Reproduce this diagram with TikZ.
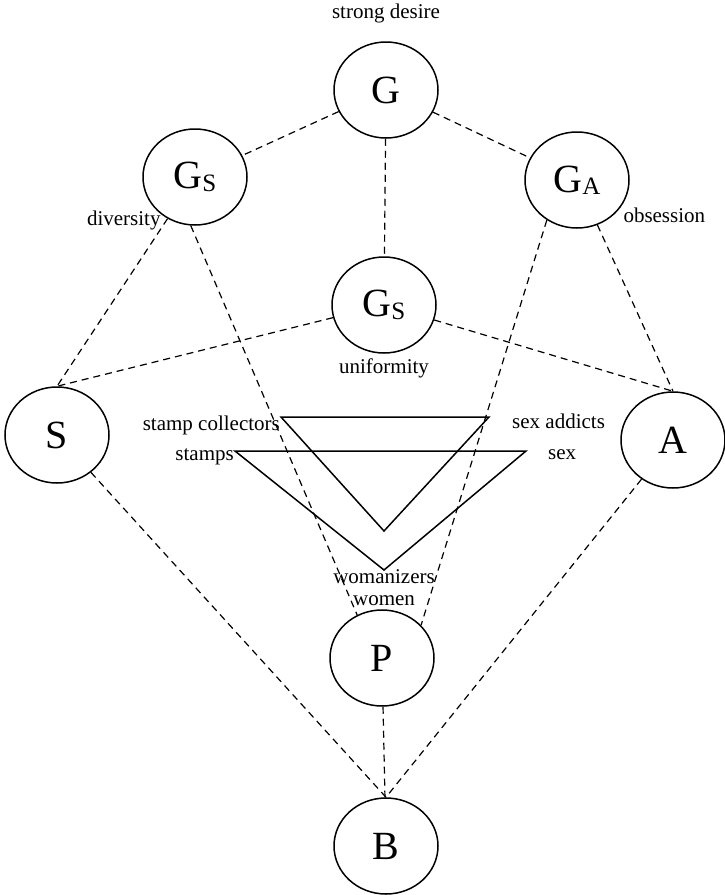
\documentclass[tikz,border=0pt]{standalone}
\usepackage{fontspec}
\setmainfont{Liberation Serif}
\usetikzlibrary{positioning}
\usetikzlibrary{shapes.geometric}

\newcommand\gsub[2]{#1\raisebox{-0.06em}{\fontsize{25}{27}\selectfont #2}}

\begin{document}
\begin{tikzpicture}
[
x=1pt, y=1pt,
state-a/.style={ellipse,draw,line width=1.5pt,minimum width=104pt,minimum height=96pt,inner sep=0pt,font=\fontsize{40}{44}\selectfont},
text-a/.style={black,font=\fontsize{21}{24}\selectfont,inner sep=1pt,text height=15pt,text depth=4pt},
link-a/.style={line width=1.2pt,dash pattern=on 7pt off 5pt},
tri-a/.style={line width=1.5pt,line join=miter},
]
\useasboundingbox (0,0) rectangle (724,-895);
% circles
\node (g)  [state-a] at (386,-90)  {G};
\node (gl) [state-a] at (195,-177) {\gsub{G}{S}};
\node (ga) [state-a] at (577,-180) {\gsub{G}{A}};
\node (gm) [state-a] at (384,-305) {\gsub{G}{S}};
\node (s)  [state-a] at (57,-435)  {S};
\node (a)  [state-a] at (673,-440) {A};
\node (p)  [state-a] at (382,-658) {P};
\node (b)  [state-a] at (386,-846) {B};
% triangles
\coordinate (t1a) at (281,-417);
\coordinate (t1b) at (489,-417);
\coordinate (t1c) at (384,-531);
\coordinate (t2a) at (235,-451);
\coordinate (t2b) at (526,-451);
\coordinate (t2c) at (384,-570);
\draw [tri-a] (t1a) -- (t1b) -- (t1c) -- cycle;
\draw [tri-a] (t2a) -- (t2b) -- (t2c) -- cycle;
% labels
\node (l1) [text-a, above = 18pt of g]                   {strong desire};
\node (l2) [text-a, left  = -4pt of gl.south west, yshift=-9pt] {diversity};
\node (l3) [text-a, right = 8pt of ga.south east, yshift=-3pt]  {obsession};
\node (l4) [text-a, below = 4pt of gm]                   {uniformity};
\node (l5) [text-a, left  = 0pt of t1a, yshift=-8pt]    {stamp collectors};
\node (l6) [text-a, left  = 0pt of t2a, yshift=-4pt]    {stamps};
\node (l7) [text-a, right = 22pt of t1b, yshift=-6pt]   {sex addicts};
\node (l8) [text-a, right = 21pt of t2b, yshift=-3pt]   {sex};
\node (l9) [text-a, below = -2.5pt of t2c]               {womanizers};
\node (l10) [text-a, below = 0pt of l9]                  {women};
% links
\draw [link-a] (g) -- (gl);
\draw [link-a] (g) -- (ga);
\draw [link-a] (g) -- (gm);
\draw [link-a] (gl) -- (s.north);
\draw [link-a] (gm) -- (s.north);
\draw [link-a] (ga) -- (a.north);
\draw [link-a] (gm) -- (a.north);
\draw [link-a] (gl.-95) -- (p.120);
\draw [link-a] (ga.-127) -- (p.40);
\draw [link-a] (s) -- (b.north);
\draw [link-a] (a) -- (b.north);
\draw [link-a] (p) -- (b);
\end{tikzpicture}
\end{document}
